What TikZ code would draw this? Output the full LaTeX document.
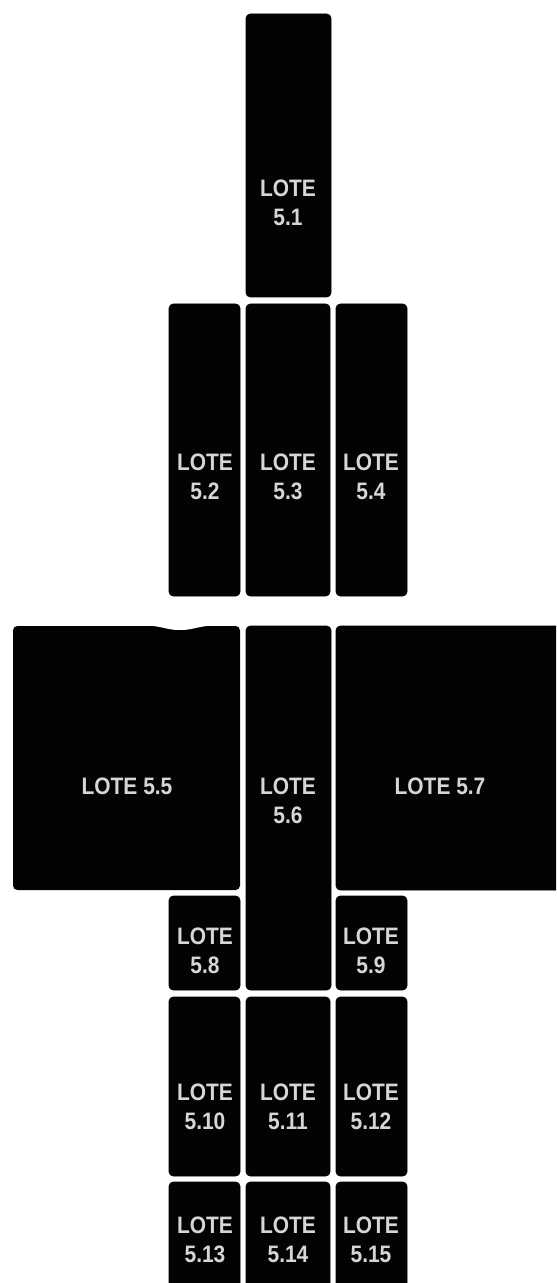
\documentclass[tikz,border=0pt]{standalone}
\usepackage{fontspec}
\usepackage{xcolor}
\usepackage{tikz}
\usetikzlibrary{positioning}
\newfontfamily\lotefont[FakeStretch=0.88]{Liberation Sans}
\definecolor{LotFill}{HTML}{030303}
\definecolor{LotText}{HTML}{D6D6D6}
\tikzset{
  lotebox/.style={fill=LotFill, rounded corners=2.2pt},
  lotelabel/.style={
    text=LotText,
    align=center,
    inner sep=0pt,
    font=\lotefont\bfseries\fontsize{11.9}{14.5}\selectfont
  }
}

\begin{document}
\begin{tikzpicture}[x=0.5pt,y=-0.5pt]
  \useasboundingbox (0,0) rectangle (556,1283);
  \clip (0,0) rectangle (556,1283);

  % narrow lots, two-line labels
  \foreach \id/\xa/\ya/\xb/\yb/\tx/\ty/\lab in {
      one/246/14/331/297/288/203/{5.1},
      two/169/304/240/596/205/477/{5.2},
      three/246/304/330/596/288/477/{5.3},
      four/336/304/407/596/371/477/{5.4},
      six/246/626/331/990/288/801/{5.6},
      eight/169/896/240/990/205/951/{5.8},
      nine/336/896/407/990/371/951/{5.9},
      ten/169/997/240/1176/205/1107/{5.10},
      eleven/246/997/330/1176/288/1107/{5.11},
      twelve/336/997/407/1176/371/1107/{5.12},
      thirteen/169/1182/240/1300/205/1240/{5.13},
      fourteen/246/1182/330/1300/288/1240/{5.14},
      fifteen/336/1182/407/1300/371/1240/{5.15}} {
    \draw[lotebox] (\xa,\ya) rectangle (\xb,\yb);
    \node[lotelabel] (lot\id) at (\tx,\ty) {LOTE\\\lab};
  }

  % wide lots
  \fill[lotebox] (13,626) rectangle (240,890);
  \fill[white] (140,625) .. controls (165,626) and (165,630) .. (180,630)
    .. controls (195,630) and (195,626) .. (220,625) -- cycle;
  \node[lotelabel] (lotfive) at (127,786) {LOTE 5.5};

  \draw[lotebox] (336,626) rectangle (575,890);
  \node[lotelabel] (lotseven) at (440,786) {LOTE 5.7};
\end{tikzpicture}
\end{document}
